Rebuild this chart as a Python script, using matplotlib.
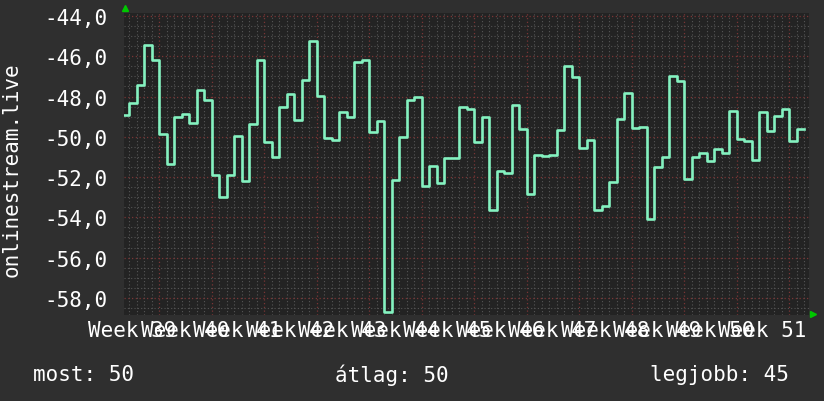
import matplotlib
matplotlib.use("Agg")
import matplotlib.pyplot as plt
import numpy as np

# napi ertekek (egy lepcso = egy nap)
ertekek = [-48.92, -48.33, -47.42, -45.42, -46.17, -49.88, -51.37, -49.03, -48.88, -49.33,
           -47.67, -48.17, -51.92, -52.97, -51.92, -49.97, -52.17, -49.37, -46.17, -50.28,
           -51.02, -48.53, -47.87, -49.17, -47.20, -45.22, -47.97, -50.05, -50.17, -48.78,
           -49.02, -46.30, -46.17, -49.78, -49.22, -58.70, -52.13, -50.02, -48.17, -48.03,
           -52.42, -51.45, -52.30, -51.05, -51.05, -48.53, -48.62, -50.28, -49.03, -53.63,
           -51.68, -51.78, -48.43, -49.62, -52.82, -50.88, -50.97, -50.88, -49.67, -46.48,
           -47.03, -50.57, -50.18, -53.62, -53.42, -52.22, -49.12, -47.83, -49.57, -49.52,
           -54.07, -51.52, -51.02, -46.98, -47.25, -52.08, -51.02, -50.82, -51.18, -50.62,
           -50.82, -48.73, -50.12, -50.20, -51.13, -48.78, -49.73, -48.98, -48.62, -50.23,
           -49.62]
hetek = ['Week 39', 'Week 40', 'Week 41', 'Week 42', 'Week 43', 'Week 44', 'Week 45',
         'Week 46', 'Week 47', 'Week 48', 'Week 49', 'Week 50', 'Week 51']
y_tickek = [-58, -56, -54, -52, -50, -48, -46, -44]
cim_y = 'onlinestream.live'
stat_szovegek = ['most: 50', 'átlag: 50', 'legjobb: 45']

# ido tengely napokban
elso_hatar = 0.707
napok = np.concatenate([[0.0], elso_hatar + np.arange(len(ertekek))])
lepcso_y = list(ertekek) + [ertekek[-1]]
het_vonalak = elso_hatar + 4 + 7 * np.arange(len(hetek))

plt.rcParams['font.family'] = ['DejaVu Sans Mono']
hatter = '#2f2f2f'
betu = 15

fig = plt.figure(figsize=(8.24, 4.02), dpi=100, facecolor=hatter)
ax = fig.add_axes([124/824, 1-316/402, 685/824, 302/402])
ax.set_facecolor('#232323')

ax.step(napok, lepcso_y, where='post', color='#84f2c0', lw=1.9, zorder=3)

ax.set_xlim(0, 91.33)
ax.set_ylim(-58.85, -43.85)

# racs
ax.set_yticks(y_tickek)
ax.set_yticks(np.arange(-58.5, -43.8, 0.5), minor=True)
ax.set_xticks(het_vonalak)
ax.set_xticks(elso_hatar + np.arange(0, 91), minor=True)
ax.grid(which='minor', color='#555555', linestyle=(0, (1, 2)), lw=0.8)
ax.grid(which='major', color='#7a3535', linestyle=(0, (1, 2)), lw=0.9)
ax.set_axisbelow(True)

ax.set_yticklabels([f"{v:.1f}".replace('.', ',') for v in y_tickek])
ax.tick_params(axis='y', which='both', length=0, pad=12, labelsize=betu, labelcolor='white')
ax.tick_params(axis='x', which='both', length=0, labelbottom=False)
for s in ax.spines.values():
    s.set_visible(False)

# het feliratok a het kozepen
for i, h in enumerate(hetek):
    ax.text(het_vonalak[i] - 3.6, -0.05, h, transform=ax.get_xaxis_transform(),
            ha='center', va='center', color='white', fontsize=betu)

# nyilak
ax.plot([0.001], [1.015], marker='^', ms=5, color='#00c800', transform=ax.transAxes, clip_on=False)
ax.plot([1.006], [0.003], marker='>', ms=5, color='#00c800', transform=ax.transAxes, clip_on=False)

fig.text(12/824, 1-170/402, cim_y, rotation=90, ha='center', va='center',
         color='white', fontsize=betu)

stat_x = [33, 335, 650]
for x, t in zip(stat_x, stat_szovegek):
    fig.text(x/824, 1-375/402, t, ha='left', va='center', color='white', fontsize=betu)

plt.savefig('out.png', dpi=100, facecolor=hatter)
